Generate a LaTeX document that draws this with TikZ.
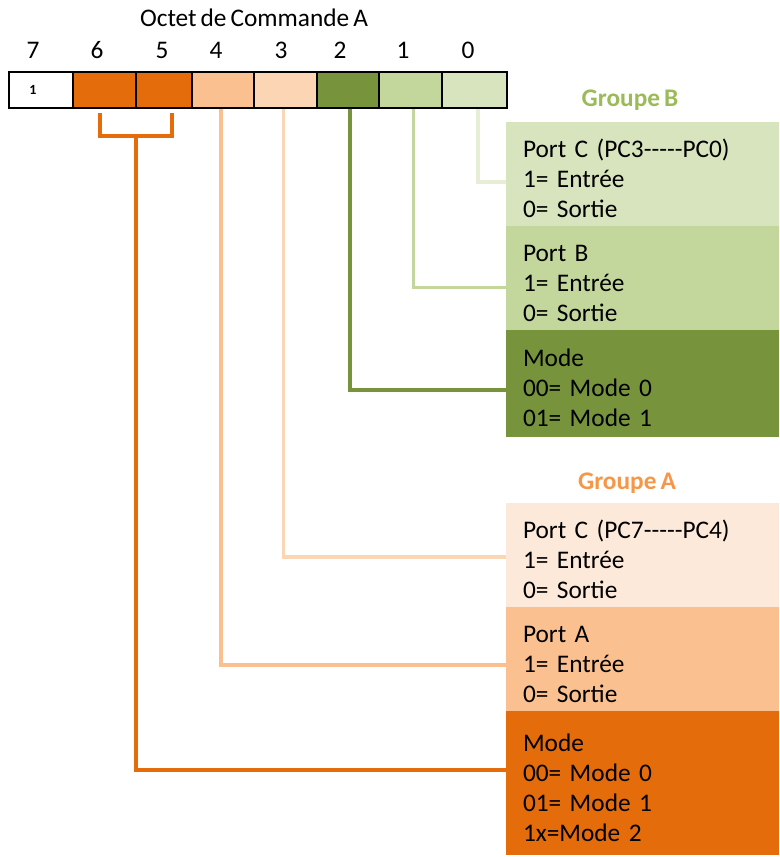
\documentclass[tikz,border=0pt]{standalone}
\usepackage{fontspec}
\setmainfont{Carlito}[WordSpace=0.7]
\usetikzlibrary{positioning}
\usepackage{xcolor}
\definecolor{orgdark}{HTML}{E46C0A}
\definecolor{orgmid}{HTML}{FAC090}
\definecolor{orglight}{HTML}{FCD5B5}
\definecolor{orgpale}{HTML}{FDE9D9}
\definecolor{grndark}{HTML}{77933C}
\definecolor{grnmid}{HTML}{C3D69B}
\definecolor{grnlight}{HTML}{D7E4BD}
\definecolor{grnpale}{HTML}{E6EED5}
\definecolor{grptitleB}{HTML}{9BBB59}
\definecolor{grptitleA}{HTML}{F79646}

\tikzset{
  cell/.style={draw=black, line width=1.1pt, minimum height=27pt, inner sep=0pt},
  portbox/.style={minimum height=78pt, text width=179pt, inner xsep=12.75pt, inner ysep=0pt, outer sep=0pt, align=left,
    font=\fontsize{19}{22.5}\selectfont, execute at begin node={\rule{0pt}{20pt}}},
  wire/.style={line width=2.5pt},
}

\begin{document}
\begin{tikzpicture}[x=0.75pt, y=-0.75pt, font=\fontsize{19}{22.5}\selectfont]
  \useasboundingbox (0,0) rectangle (779,857);

  % octet de commande
  \node (titre) at (254,18) {Octet de Commande A};
  \foreach \n/\l/\r/\lx/\c in {7/9/73/33/white, 6/73/136/97/orgdark, 5/136/192/162/orgdark,
      4/192/254/216/orgmid, 3/254/317/281/orglight, 2/317/379/340/grndark,
      1/379/442/403/grnmid, 0/442/507/468/grnlight} {
    \node[cell, fill=\c, minimum width={(\r-\l)*0.75pt}] (b\n) at ({(\l+\r)/2},90) {};
    \node (lb\n) at (\lx,50) {\n};
  }
  \node[font=\fontsize{10.5}{12}\bfseries] (un) at (33,90) {1};

  % groupe B
  \node[font=\fontsize{19}{22.5}\bfseries, text=grptitleB] (grpb) at (630,100) {Groupe B};
  \node[portbox, anchor=north west, fill=grnlight] (pcb) at (506,122) {Port C (PC3{-}{-}{-}{-}{-}PC0)\\1= Entrée\\0= Sortie};
  \node[portbox, fill=grnmid, below=0pt of pcb] (pb) {Port B\\1= Entrée\\0= Sortie};
  \node[portbox, fill=grndark, minimum height=80pt, below=0pt of pb] (modeb) {Mode\\00= Mode 0\\01= Mode 1};

  % groupe A
  \node[font=\fontsize{19}{22.5}\bfseries, text=grptitleA] (grpa) at (627,483) {Groupe A};
  \node[portbox, anchor=north west, fill=orgpale] (pca) at (506,503) {Port C (PC7{-}{-}{-}{-}{-}PC4)\\1= Entrée\\0= Sortie};
  \node[portbox, fill=orgmid, below=0pt of pca] (pa) {Port A\\1= Entrée\\0= Sortie};
  \node[portbox, fill=orgdark, minimum height=108pt, below=0pt of pa] (modea) {Mode\\00= Mode 0\\01= Mode 1\\1x=Mode 2};

  % liaisons
  \draw[wire, grnpale] ([xshift=2.6pt]b0.south) |- ([yshift=-6pt]pcb.west);
  \draw[wire, grnmid] ([xshift=2pt]b1.south) |- ([yshift=-7pt]pb.west);
  \draw[wire, grndark] ([xshift=1.5pt]b2.south) |- ([yshift=-5pt]modeb.west);
  \draw[wire, orglight] ([xshift=-1.5pt]b3.south) |- ([yshift=-1.5pt]pca.west);
  \draw[wire, orgmid] ([xshift=-1.5pt]b4.south) |- ([yshift=-4.5pt]pa.west);
  \coordinate (brk) at (136,136);
  \draw[wire, orgdark] ([xshift=-3.4pt,yshift=-3pt]b6.south) |- (brk) -| ([xshift=6pt,yshift=-3pt]b5.south);
  \draw[wire, orgdark] (brk) |- ([yshift=9.75pt]modea.west);
\end{tikzpicture}
\end{document}
